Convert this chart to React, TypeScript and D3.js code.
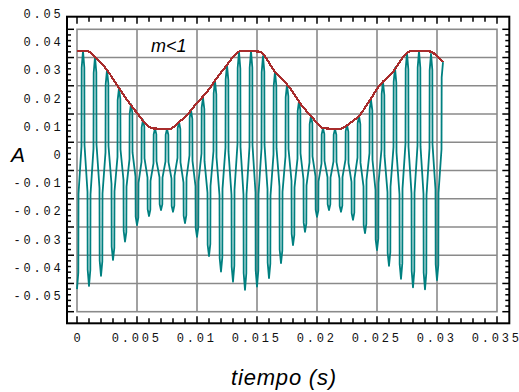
import React from "react";
import * as d3 from "d3";

// ---- data ----
// carrier extremes: troughs at t = k*0.001, peaks at t = 0.0005 + k*0.001
const troughTimes = [0, 0.001, 0.002, 0.003, 0.004, 0.005, 0.006, 0.007, 0.008, 0.009, 0.010, 0.011, 0.012, 0.013, 0.014, 0.015, 0.016, 0.017, 0.018, 0.019, 0.020, 0.021, 0.022, 0.023, 0.024, 0.025, 0.026, 0.027, 0.028, 0.029, 0.030];
const troughValues = [-0.0420, -0.0409, -0.0373, -0.0317, -0.0252, -0.0193, -0.0161, -0.0140, -0.0146, -0.0186, -0.0235, -0.0303, -0.0358, -0.0394, -0.0423, -0.0411, -0.0381, -0.0328, -0.0264, -0.0217, -0.0164, -0.0140, -0.0146, -0.0175, -0.0222, -0.0282, -0.0338, -0.0384, -0.0414, -0.0421, -0.0388];
const peakTimes = [0.0005, 0.0015, 0.0025, 0.0035, 0.0045, 0.0055, 0.0065, 0.0075, 0.0085, 0.0095, 0.0105, 0.0115, 0.0125, 0.0135, 0.0145, 0.0155, 0.0165, 0.0175, 0.0185, 0.0195, 0.0205, 0.0215, 0.0225, 0.0235, 0.0245, 0.0255, 0.0265, 0.0275, 0.0285, 0.0295, 0.0305];
const peakValues = [0.0423, 0.0402, 0.0356, 0.0292, 0.0235, 0.0179, 0.0149, 0.0147, 0.0172, 0.0214, 0.0257, 0.0317, 0.0374, 0.0420, 0.0423, 0.0405, 0.0349, 0.0303, 0.0246, 0.0193, 0.0150, 0.0147, 0.0161, 0.0193, 0.0250, 0.0313, 0.0363, 0.0416, 0.0423, 0.0413, 0.0384];

// envelope (red)
const envTimes = [0, 0.00083, 0.00167, 0.0025, 0.00333, 0.00417, 0.005, 0.00583, 0.00633, 0.00775, 0.00833, 0.00917, 0.010, 0.01083, 0.01167, 0.0125, 0.01333, 0.0136, 0.0152, 0.0165, 0.01775, 0.01858, 0.01958, 0.0205, 0.0219, 0.02275, 0.02358, 0.02442, 0.02525, 0.02633, 0.0275, 0.0279, 0.02925, 0.0305];
const envValues = [0.0423, 0.0423, 0.0395, 0.0356, 0.0303, 0.0250, 0.0204, 0.0161, 0.0149, 0.0147, 0.0165, 0.0197, 0.0239, 0.0278, 0.0328, 0.0374, 0.0416, 0.0423, 0.0421, 0.0349, 0.0292, 0.0239, 0.0189, 0.0150, 0.0147, 0.0168, 0.0197, 0.0250, 0.0303, 0.0349, 0.0416, 0.0423, 0.0423, 0.0384];

const xTicks = [0, 0.005, 0.01, 0.015, 0.02, 0.025, 0.03, 0.035];
const xTickLabels = ["0", "0.005", "0.01", "0.015", "0.02", "0.025", "0.03", "0.035"];
const yTicks = [0.05, 0.04, 0.03, 0.02, 0.01, 0, -0.01, -0.02, -0.03, -0.04, -0.05];
const yTickLabels = ["0.05", "0.04", "0.03", "0.02", "0.01", "0", "-0.01", "-0.02", "-0.03", "-0.04", "-0.05"];

const xLabel = "tiempo (s)";
const yLabel = "A";
const note = "m<1";

// shape of one half-cycle stroke (fractions of the span between two extremes)
const legShape: [number, number][] = [
  [0.22, 0.07],
  [0.25, 0.40],
  [0.75, 0.60],
  [0.78, 0.93],
];

const GLYPH = 7.2; // Liberation Mono advance at 12px
const ADV = 10; // glyph advance plus letter gap

function spacedX(n: number, start: number): string {
  return d3.range(n).map((i) => (start + i * ADV).toFixed(2)).join(" ");
}

export default function App() {
  const W = 519, H = 392;
  const x = d3.scaleLinear().domain([0, 0.035]).range([77, 497]);
  const y = d3.scaleLinear().domain([-0.05, 0.05]).range([311.7, 29.3]);

  const frame = { l: 67, r: 509.3, t: 16.7, b: 323.3 };

  const extremes: [number, number][] = [];
  troughTimes.forEach((t, i) => {
    extremes.push([t, troughValues[i]]);
    if (i < peakTimes.length) extremes.push([peakTimes[i], peakValues[i]]);
  });
  const pts: [number, number][] = [];
  extremes.forEach((e, i) => {
    const xa = x(e[0]), ya = y(e[1]);
    pts.push([xa, ya]);
    if (i < extremes.length - 1) {
      const xb = x(extremes[i + 1][0]), yb = y(extremes[i + 1][1]);
      legShape.forEach(([fx, fy]) => pts.push([xa + fx * (xb - xa), ya + fy * (yb - ya)]));
    }
  });
  const sigPath = d3.line().curve(d3.curveLinear)(pts) || "";

  const env: [number, number][] = envTimes.map((t, i) => [t, envValues[i]]);
  const envLine = d3.line<[number, number]>()
    .x((d) => x(d[0]))
    .y((d) => y(d[1]))
    .curve(d3.curveMonotoneX);

  const xMinor = d3.range(0, 0.0351, 0.001);
  const yMinor = d3.range(-0.05, 0.0501, 0.002);

  const grid = "#8a8a8a";
  const tickFont = { fontFamily: "'Liberation Mono', 'DejaVu Sans Mono', monospace", fontSize: 12 };

  return (
    <svg width={W} height={H} style={{ position: "absolute", left: 0, top: 0, background: "#fff" }}>
      {xTicks.slice(1, -1).map((t) => (
        <line key={"gx" + t} x1={x(t)} x2={x(t)} y1={y(0.05)} y2={y(-0.05)} stroke={grid} strokeWidth={1.6} />
      ))}
      {yTicks.slice(1, -1).map((v) => (
        <line key={"gy" + v} x1={x(0)} x2={x(0.035)} y1={y(v)} y2={y(v)} stroke={grid} strokeWidth={1.6} />
      ))}
      <rect x={x(0)} y={y(0.05)} width={x(0.035) - x(0)} height={y(-0.05) - y(0.05)} fill="none" stroke={grid} strokeWidth={1.6} />

      <path d={sigPath} fill="none" stroke="#008080" strokeWidth={1.8} strokeLinejoin="round" />
      <path d={envLine(env) || ""} fill="none" stroke="#a82c2c" strokeWidth={2.2} shapeRendering="crispEdges" />

      <rect x={frame.l} y={frame.t} width={frame.r - frame.l} height={frame.b - frame.t} fill="none" stroke="#000" strokeWidth={2} />

      {xMinor.map((t, i) => {
        const major = i % 5 === 0;
        const len = major ? 7 : 5;
        return (
          <g key={"xt" + i}>
            <line x1={x(t)} x2={x(t)} y1={frame.b} y2={frame.b - len} stroke="#000" strokeWidth={1.5} />
            <line x1={x(t)} x2={x(t)} y1={frame.t} y2={frame.t + len} stroke="#000" strokeWidth={1.5} />
          </g>
        );
      })}
      {yMinor.map((v, i) => {
        const major = i % 5 === 0;
        const len = major ? 7 : 4;
        return (
          <g key={"yt" + i}>
            <line x1={frame.l} x2={frame.l + len} y1={y(v)} y2={y(v)} stroke="#000" strokeWidth={1.5} />
            <line x1={frame.r} x2={frame.r - len} y1={y(v)} y2={y(v)} stroke="#000" strokeWidth={1.5} />
          </g>
        );
      })}

      {xTicks.map((t, i) => {
        const s = xTickLabels[i];
        const n = s.length;
        const width = (n - 1) * ADV + GLYPH;
        const start = x(t) - width / 2 - (n > 1 ? 1.7 : 0);
        return (
          <text key={"xl" + i} x={spacedX(n, start)} y={341.7} fill="#111" style={tickFont}>
            {s}
          </text>
        );
      })}
      {yTicks.map((v, i) => {
        const s = yTickLabels[i];
        const n = s.length;
        const width = (n - 1) * ADV + GLYPH;
        const start = 60.8 - width;
        return (
          <text key={"yl" + i} x={spacedX(n, start)} y={y(v) - 11.5} fill="#111" style={tickFont}>
            {s}
          </text>
        );
      })}

      <text x={18} y={161.5} textAnchor="middle" fontFamily="'Liberation Sans', Arial, sans-serif" fontStyle="italic" fontSize={21} fill="#000">
        {yLabel}
      </text>
      <text x={284} y={385} textAnchor="middle" fontFamily="'Liberation Sans', Arial, sans-serif" fontStyle="italic" fontSize={22} letterSpacing="0.8px" fill="#000">
        {xLabel}
      </text>
      <text x={151} y={51.5} fontFamily="'Liberation Sans', Arial, sans-serif" fontStyle="italic" fontSize={18} fill="#000">
        {note}
      </text>
    </svg>
  );
}
